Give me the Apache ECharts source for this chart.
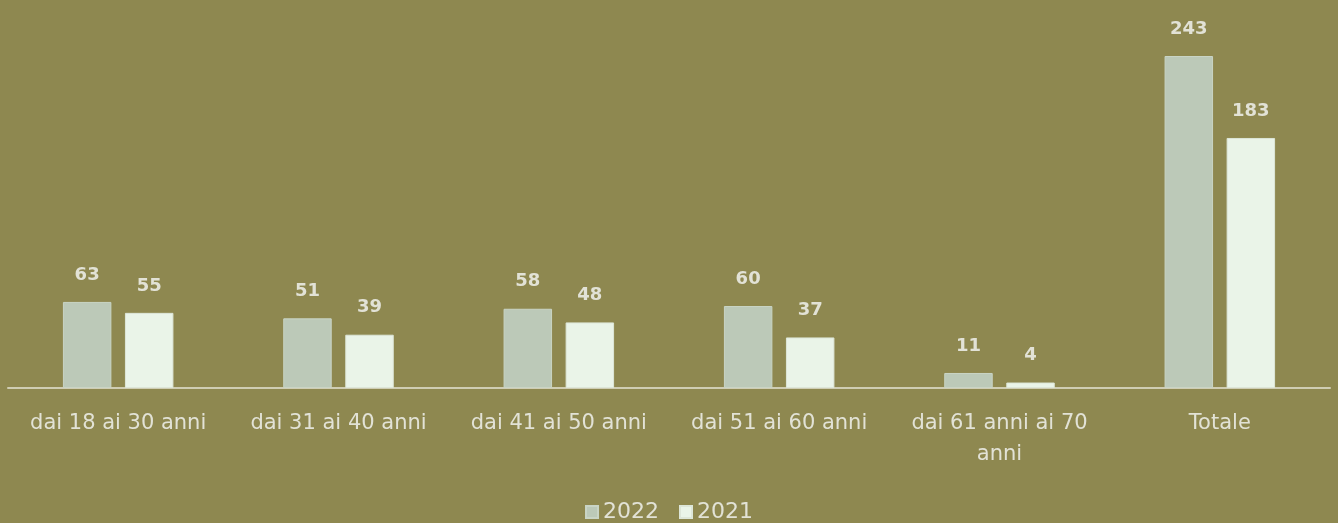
<!DOCTYPE html>
<html><head><meta charset="utf-8">
<script src="https://cdn.jsdelivr.net/npm/echarts@6/dist/echarts.min.js"></script>
<style>html,body{margin:0;padding:0;background:#8E8850;}#c{width:1338px;height:523px;}</style>
</head><body><div id="c"></div>
<script>
const categories = ['dai 18 ai 30 anni','dai 31 ai 40 anni','dai 41 ai 50 anni','dai 51 ai 60 anni','dai 61 anni ai 70\nanni','Totale'];
const seriesNames = ['2022','2021'];
const values2022 = [63,51,58,60,11,243];
const values2021 = [55,39,48,37,4,183];

const FONT = 'DejaVu Sans';
const chart = echarts.init(document.getElementById('c'));
const labelStyle = {show:true, position:'top', distance:18, color:'#E2E2D6', fontSize:18, fontWeight:'bold', fontFamily:FONT};
chart.setOption({
  backgroundColor:'#8E8850',
  animation:false,
  grid:{left:8, right:8, top:56, bottom:135, containLabel:false},
  legend:{top:496, itemWidth:12, itemHeight:12, itemGap:20, icon:'rect',
    textStyle:{color:'#E2E2D6', fontSize:22, fontFamily:FONT}, data:seriesNames},
  xAxis:{type:'category', data:categories,
    axisLine:{lineStyle:{color:'#CFCDB3', width:2}}, axisTick:{show:false},
    axisLabel:{color:'#E2E2D6', fontSize:21, fontFamily:FONT, margin:20, lineHeight:31, interval:0}},
  yAxis:{type:'value', min:0, max:243, show:false, splitLine:{show:false}},
  series:[
    {name:seriesNames[0], type:'bar', data:values2022, barWidth:'22%', barGap:'28%',
     itemStyle:{color:'#BCC9B8', borderColor:'#C9D4C5', borderWidth:1}, label:labelStyle},
    {name:seriesNames[1], type:'bar', data:values2021, barWidth:'22%',
     itemStyle:{color:'#EAF4E8', borderColor:'#DDE6D8', borderWidth:1}, label:labelStyle}
  ]
});
</script></body></html>
